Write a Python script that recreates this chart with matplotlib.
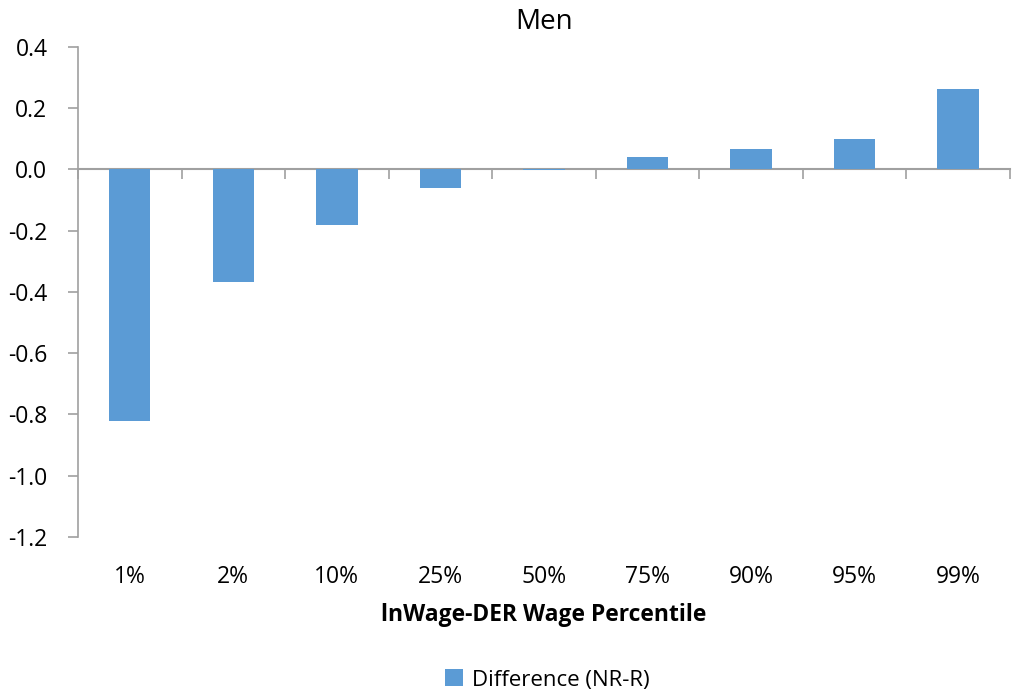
import matplotlib
matplotlib.use("Agg")
import matplotlib.pyplot as plt
import numpy as np

percentiles = ["1%", "2%", "10%", "25%", "50%", "75%", "90%", "95%", "99%"]
difference = [-0.82, -0.367, -0.182, -0.062, -0.003, 0.042, 0.068, 0.10, 0.263]
yticks = [0.4, 0.2, 0.0, -0.2, -0.4, -0.6, -0.8, -1.0, -1.2]

plt.rcParams["font.family"] = ["Open Sans", "DejaVu Sans"]
bar_color = "#5B9BD5"
axis_color = "#A0A0A0"

fig = plt.figure(figsize=(10.13, 6.98), dpi=100)
ax = fig.add_axes([0.077, 0.2307, 0.92, 0.702])

x = np.arange(len(percentiles))
bars = ax.bar(x, difference, width=0.4, color=bar_color, label="Difference (NR-R)", zorder=2)

ax.set_xlim(-0.5, len(percentiles) - 0.5)
ax.set_ylim(-1.2, 0.4)
ax.set_yticks(yticks)
ax.set_yticklabels([f"{v:.1f}" for v in yticks])

for side in ["top", "right", "bottom"]:
    ax.spines[side].set_visible(False)
ax.spines["left"].set_color(axis_color)
ax.spines["left"].set_linewidth(1.2)
ax.tick_params(axis="y", colors=axis_color, length=7, width=1.2, labelsize=16.5,
               labelcolor="black", pad=15)

# category labels sit below the plot area
ax.set_xticks(x)
ax.set_xticklabels(percentiles)
ax.tick_params(axis="x", length=0, labelsize=16.5, pad=20)

# zero axis with category boundary ticks hanging below it
zero_frac = (0 - (-1.2)) / (0.4 - (-1.2))
zax = ax.secondary_xaxis(zero_frac)
zax.set_xticks(np.arange(len(percentiles) + 1) - 0.5)
zax.set_xticklabels([])
for side in ["top", "bottom"]:
    zax.spines[side].set_color(axis_color)
    zax.spines[side].set_linewidth(1.5)
zax.tick_params(axis="x", colors=axis_color, length=7, width=1.2, direction="in")

ax.set_title("Men", fontsize=20, pad=13)
ax.set_xlabel("lnWage-DER Wage Percentile", fontsize=16.5, fontweight="bold", labelpad=10)

fig.legend(handles=[bars], loc="lower center", bbox_to_anchor=(0.54, -0.018),
           frameon=False, fontsize=16, handlelength=0.8, handleheight=0.8,
           handletextpad=0.4)

fig.savefig("out.png", dpi=100)
